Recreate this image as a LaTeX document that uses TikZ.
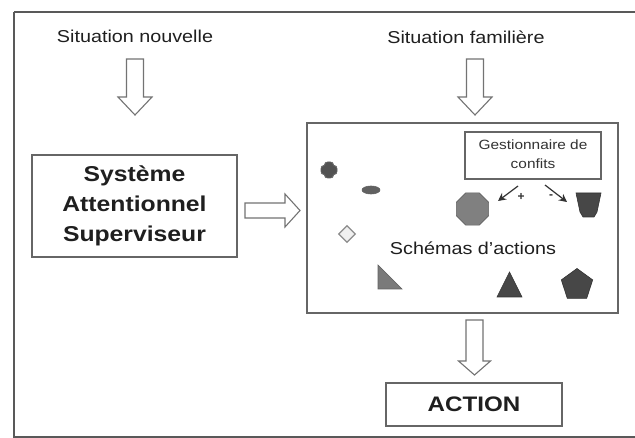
\documentclass[tikz,border=0pt]{standalone}
\usepackage{fontspec}
\setmainfont{Liberation Sans}
\usetikzlibrary{shapes.geometric,arrows.meta}
\newcommand\wide[1]{\scalebox{1.15}[1]{#1}}
\tikzset{
  frame/.style={draw=black!65, line width=1.4pt},
  box/.style={draw=black!60, line width=1.3pt, inner sep=0pt},
  label/.style={text=black!88, inner sep=0pt, font=\fontsize{17.2}{20}\selectfont},
  blockarrow/.style={draw=black!55, line width=1.1pt, fill=white, line join=miter},
  conf/.style={draw=black!80, line width=1.2pt, -{Stealth[length=8pt,width=8pt]}},
  darkshape/.style={fill=black!72, draw=black!80, line width=0.6pt},
  grayshape/.style={fill=black!52, draw=black!62, line width=0.6pt},
}
\newcommand\hdown[5]{% x, ytop, ytip, head length, head half-width
  \draw[blockarrow] (#1-8.5,#2) -- (#1+8.5,#2) -- (#1+8.5,#3-#4) -- (#1+#5,#3-#4)
    -- (#1,#3) -- (#1-#5,#3-#4) -- (#1-8.5,#3-#4) -- cycle;}
\begin{document}
\begin{tikzpicture}[x=1pt,y=-1pt]
\useasboundingbox (0,0) rectangle (635,438);
\fill[white] (0,0) rectangle (635,438);
% outer frame
\draw[frame] (14,12) -- (645,12) (14,12) -- (14,437) -- (645,437);

% labels
\node[label] (sn) at (135,36) {\wide{Situation nouvelle}};
\node[label] (sf) at (466,37) {\wide{Situation familière}};

% boxes
\node[box, minimum width=205pt, minimum height=102pt] (sas) at (134.5,206)
  {\wide{\fontsize{21.5}{30}\selectfont\bfseries\color{black!88}%
   \begin{tabular}{@{}c@{}}Système\\Attentionnel\\Superviseur\end{tabular}}};
\node[box, minimum width=311pt, minimum height=190pt] (schemas) at (462.5,218) {};
\node[box, minimum width=136pt, minimum height=47pt] (gest) at (533,155.5)
  {\wide{\fontsize{13.4}{19}\selectfont\color{black!80}%
   \begin{tabular}{@{}c@{}}Gestionnaire de\\confits\end{tabular}}};
\node[box, minimum width=176pt, minimum height=43pt] (action) at (474,404.5)
  {\wide{\fontsize{21}{24}\selectfont\bfseries\color{black!88}ACTION}};
\node[label] (sa) at (473,248) {\wide{Schémas d'actions}};

% block arrows
\hdown{135}{59}{115}{18}{17}
\hdown{475}{59}{115}{18}{17}
\hdown{474.5}{320}{375}{14}{16}
\draw[blockarrow] (245,203) -- (285,203) -- (285,194) -- (300,210.5) -- (285,227)
  -- (285,218) -- (245,218) -- cycle;

% shapes
\draw[grayshape, fill=black!68, rounded corners=2.5pt]
  (325,162) -- (333,162) -- (333,166) -- (337,166) -- (337,174) -- (333,174)
  -- (333,178) -- (325,178) -- (325,174) -- (321,174) -- (321,166) -- (325,166) -- cycle;
\node[grayshape, fill=black!62, ellipse, minimum width=18pt, minimum height=8pt,
  inner sep=0pt] (ell) at (371,190) {};
\node[draw=black!45, fill=black!6, line width=1.3pt, diamond, minimum size=17pt,
  inner sep=0pt] (dia) at (347,234) {};
\node[grayshape, fill=black!50, regular polygon, regular polygon sides=8,
  minimum size=35pt, inner sep=0pt] (oct) at (472.5,209) {};
\node[darkshape, regular polygon, regular polygon sides=5, minimum size=33pt,
  inner sep=0pt] (pent) at (577,285) {};
\draw[darkshape] (576,193) -- (601,193) -- (597,212) -- (594,217) -- (583,217) -- (580,212) -- cycle;
\draw[grayshape] (378,265) -- (378,289) -- (402,289) -- cycle;
\draw[darkshape] (509.5,272) -- (522,297) -- (497,297) -- cycle;

% conflict arrows
\coordinate (pl) at (498,201);
\coordinate (mi) at (567,202);
\draw[conf] (518,186) -- (pl);
\draw[conf] (545,185) -- (mi);
\node[text=black!80, font=\fontsize{12}{12}\selectfont\bfseries, inner sep=0pt] (plus) at (521,197) {+};
\node[text=black!80, font=\fontsize{12}{12}\selectfont\bfseries, inner sep=0pt] (minus) at (551,197) {-};
\end{tikzpicture}
\end{document}
